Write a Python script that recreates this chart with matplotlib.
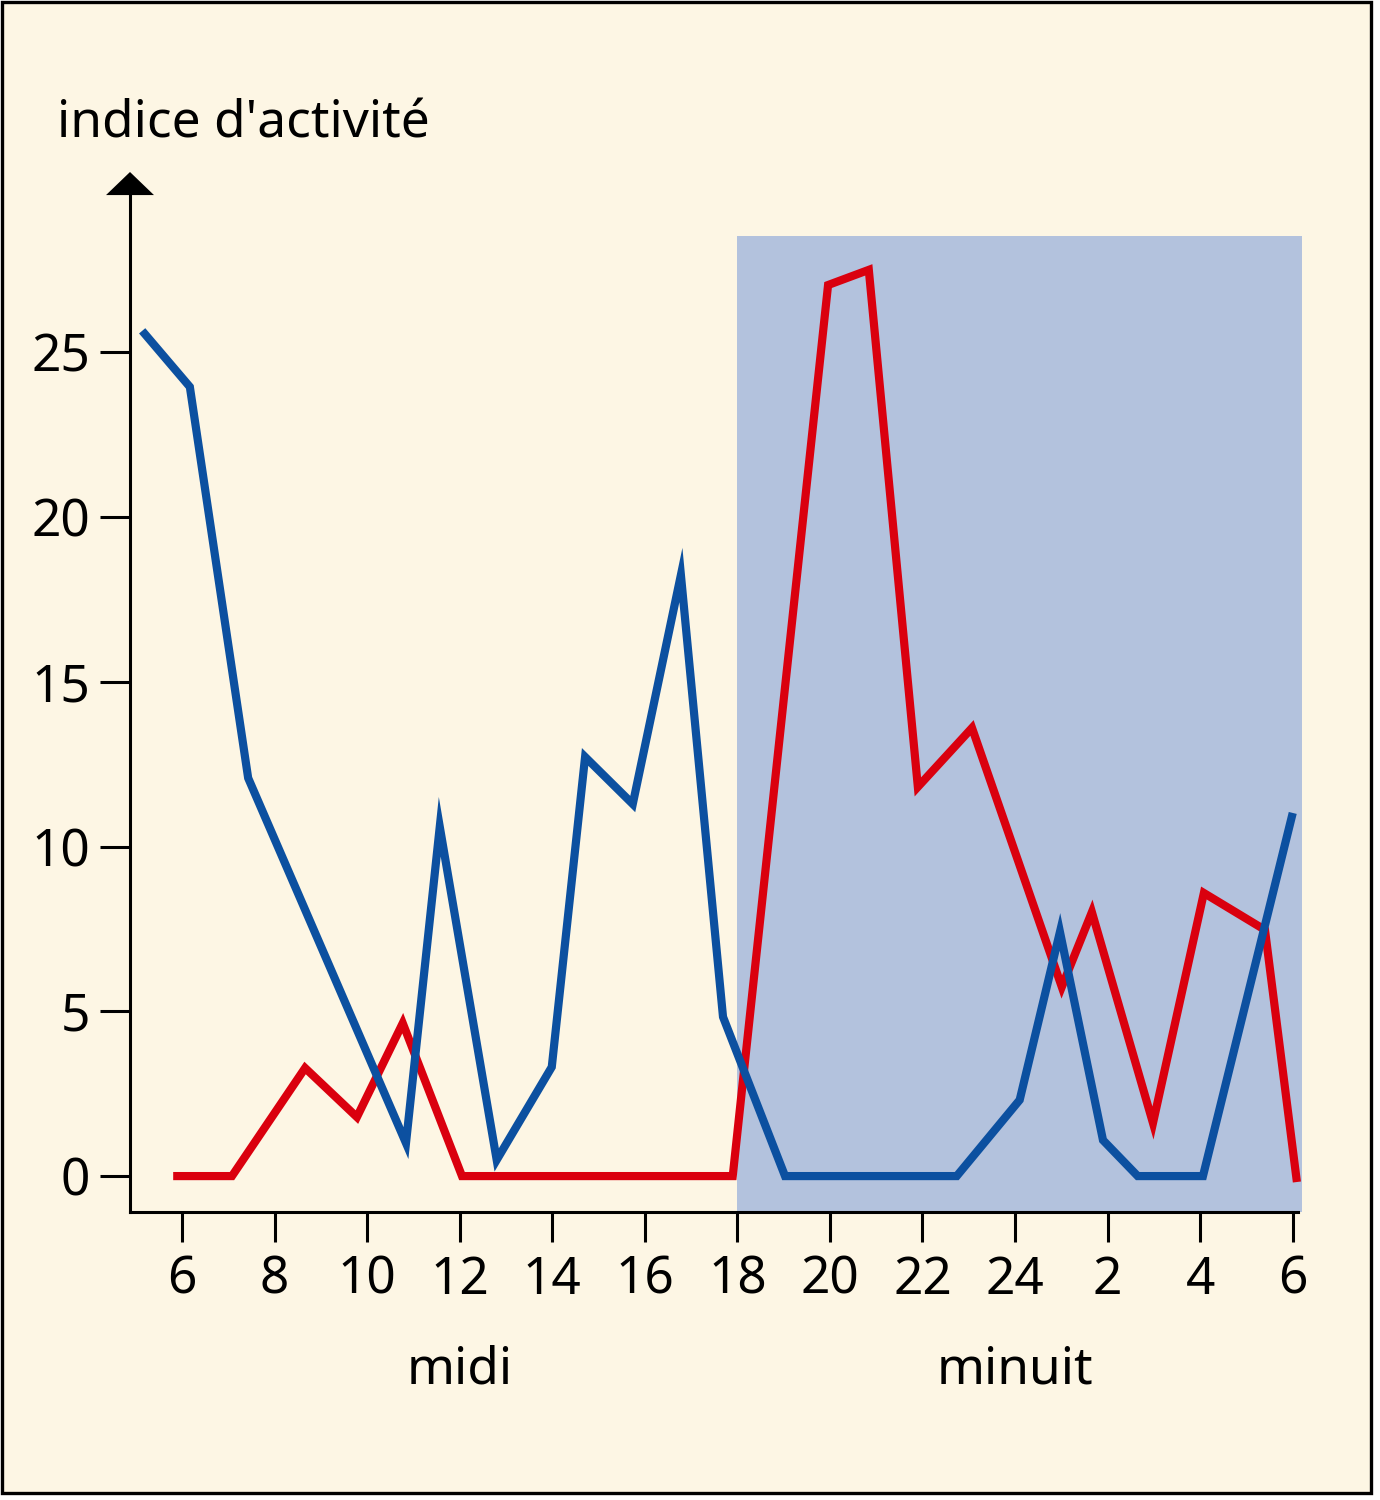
import numpy as np
import matplotlib
matplotlib.use('Agg')
import matplotlib.pyplot as plt
from matplotlib.patches import Rectangle, Polygon
from matplotlib.transforms import blended_transform_factory

plt.rcParams['font.family'] = ['Noto Sans', 'DejaVu Sans']

# heures (6 h du matin = 6, 6 h le lendemain = 30)
t_bleu = [5.14, 6.17, 7.43, 10.84, 11.57, 12.80, 13.99, 14.71, 15.74, 16.78, 17.69,
          19.03, 22.74, 24.10, 24.97, 25.90, 26.65, 28.06, 30.0]
v_bleu = [25.65, 23.95, 12.08, 1.0, 10.6, 0.49, 3.31, 12.72, 11.29, 18.24, 4.83,
          0, 0, 2.31, 7.41, 1.09, 0, 0, 11.02]
t_rouge = [5.81, 7.08, 8.66, 9.78, 10.77, 12.05, 17.90, 19.96, 20.84, 21.90, 23.07,
           25.01, 25.66, 26.98, 28.08, 29.40, 30.09]
v_rouge = [0, 0, 3.28, 1.79, 4.64, 0, 0, 27.04, 27.5, 11.81, 13.6,
           5.74, 8.01, 1.61, 8.59, 7.47, -0.18]
xticks = [6, 8, 10, 12, 14, 16, 18, 20, 22, 24, 26, 28, 30]
xlabels = ['6', '8', '10', '12', '14', '16', '18', '20', '22', '24', '2', '4', '6']
yticks = [0, 5, 10, 15, 20, 25]
nuit = (18, 30.2, 28.53)  # début, fin, hauteur de la zone grisée

creme = '#FDF6E4'
bleu = '#0C50A0'
rouge = '#DA000E'
gris_bleu = '#B3C2DD'

fig = plt.figure(figsize=(13.8, 15), dpi=100, facecolor='white')
fig.patches.append(Rectangle((0.0011, 0.0047), 0.9924, 0.9942, transform=fig.transFigure,
                             facecolor=creme, edgecolor='black', linewidth=2.4, zorder=-10))

ax = fig.add_axes([130/1380, 1-1212/1500, 1172/1380, 1040/1500])
ax.set_facecolor('none')
x0, x1 = 4.877, 30.2
y0, y1 = -1.09, 30.47
ax.set_xlim(x0, x1)
ax.set_ylim(y0, y1)

ax.add_patch(Rectangle((nuit[0], y0), nuit[1]-nuit[0], nuit[2]-y0,
                       facecolor=gris_bleu, edgecolor='none', zorder=0))

ax.plot(t_rouge, v_rouge, color=rouge, lw=5.9, solid_joinstyle='miter',
        solid_capstyle='butt', zorder=3)
ax.plot(t_bleu, v_bleu, color=bleu, lw=5.9, solid_joinstyle='miter',
        solid_capstyle='butt', zorder=4)

for s in ['top', 'right']:
    ax.spines[s].set_visible(False)
ax.spines['left'].set_linewidth(2.2)
ax.spines['bottom'].set_linewidth(2.2)
ax.spines['left'].set_bounds(y0, 29.77)
ax.spines['bottom'].set_bounds(x0, 30.11)

# flèche en haut de l'axe
ax.add_patch(Polygon([[x0-0.518, 29.77], [x0+0.518, 29.77], [x0, y1]], closed=True,
                     facecolor='black', edgecolor='none', clip_on=False, zorder=5))

ax.set_xticks(xticks)
ax.set_xticklabels(xlabels)
ax.set_yticks(yticks)
ax.tick_params(direction='out', length=21.6, width=2.2, labelsize=37, colors='black')
ax.tick_params(axis='x', pad=9)
ax.tick_params(axis='y', pad=7)

tr = blended_transform_factory(ax.transData, fig.transFigure)
ax.text(12, 1-1384/1500, 'midi', transform=tr, ha='center', va='baseline', fontsize=37)
ax.text(24, 1-1384/1500, 'minuit', transform=tr, ha='center', va='baseline', fontsize=37)
fig.text(57/1380, 1-138/1500, "indice d'activité", ha='left', va='baseline', fontsize=37)

plt.savefig('out.png', dpi=100, facecolor='white')
